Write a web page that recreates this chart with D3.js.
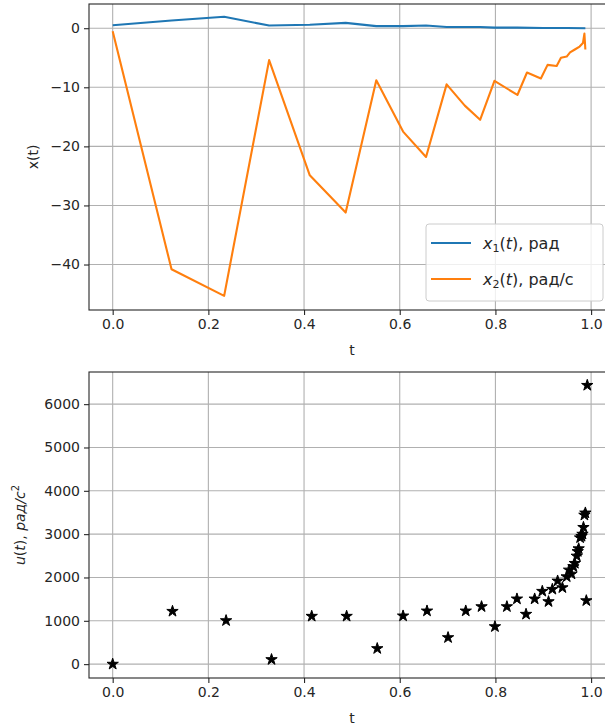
<!DOCTYPE html>
<html>
<head>
<meta charset="utf-8">
<script src="https://cdn.jsdelivr.net/npm/d3@7"></script>
<style>
  body { margin: 0; background: #fff; }
  svg { display: block; font-family: "DejaVu Sans", sans-serif; }
</style>
</head>
<body>
<svg id="chart" width="605" height="728"></svg>
<script>
// top panel: state variables
var t1 = [0, 0.123, 0.233, 0.327, 0.412, 0.487, 0.551, 0.607, 0.655, 0.698, 0.736, 0.768, 0.798, 0.846, 0.9, 0.95, 0.988];
var x1 = [0.5, 1.3, 1.95, 0.45, 0.6, 0.9, 0.35, 0.35, 0.45, 0.2, 0.2, 0.2, 0.1, 0.1, 0.05, 0.03, 0.0];

var t2 = [0, 0.123, 0.233, 0.327, 0.412, 0.487, 0.551, 0.607, 0.655, 0.698, 0.736, 0.768, 0.798, 0.846,
          0.866, 0.895, 0.909, 0.928, 0.937, 0.949, 0.956, 0.966, 0.976, 0.983, 0.986, 0.988];
var x2 = [-0.5, -40.8, -45.3, -5.4, -24.9, -31.2, -8.8, -17.5, -21.8, -9.5, -13.1, -15.5, -8.9, -11.3,
          -7.5, -8.5, -6.2, -6.4, -5.0, -4.8, -4.1, -3.6, -3.1, -2.5, -0.9, -3.6];

// bottom panel: control
var tU = [0, 0.125, 0.237, 0.332, 0.416, 0.489, 0.553, 0.607, 0.657, 0.701, 0.738, 0.771, 0.799, 0.824,
          0.845, 0.864, 0.882, 0.898, 0.911, 0.919, 0.930, 0.940, 0.949, 0.954, 0.959, 0.963, 0.966,
          0.970, 0.972, 0.974, 0.977, 0.980, 0.982, 0.984, 0.986, 0.988, 0.990, 0.992];
var uVals = [0, 1220, 1005, 106, 1106, 1106, 360, 1113, 1228, 613, 1228, 1327, 866, 1327,
             1505, 1152, 1505, 1682, 1443, 1728, 1920, 1765, 2018, 2173, 2080, 2250, 2327,
             2495, 2600, 2664, 2917, 2950, 3000, 3157, 3440, 3490, 1465, 6435];

var xTicks = [0, 0.2, 0.4, 0.6, 0.8, 1.0];
var topYTicks = [0, -10, -20, -30, -40];
var botYTicks = [0, 1000, 2000, 3000, 4000, 5000, 6000];

var svg = d3.select("#chart");
var textColor = "#262626";

function fmtMinus(d) { return String(d).replace("-", "\u2212"); }

function drawAxes(g, x, y, yTicks, yFmt, left, top, right, bottom) {
  // grid
  g.selectAll(".vg").data(xTicks).enter().append("line")
    .attr("x1", function(d) { return x(d); }).attr("x2", function(d) { return x(d); })
    .attr("y1", top).attr("y2", bottom)
    .attr("stroke", "#b0b0b0").attr("stroke-width", 1.1);
  g.selectAll(".hg").data(yTicks).enter().append("line")
    .attr("x1", left).attr("x2", right)
    .attr("y1", function(d) { return y(d); }).attr("y2", function(d) { return y(d); })
    .attr("stroke", "#b0b0b0").attr("stroke-width", 1.1);

  // axes with d3
  var ax = g.append("g")
    .attr("transform", "translate(0," + bottom + ")")
    .call(d3.axisBottom(x).tickValues(xTicks).tickFormat(d3.format(".1f"))
      .tickSizeInner(5).tickSizeOuter(0).tickPadding(4));
  var ay = g.append("g")
    .attr("transform", "translate(" + left + ",0)")
    .call(d3.axisLeft(y).tickValues(yTicks).tickFormat(yFmt)
      .tickSizeInner(5).tickSizeOuter(0).tickPadding(4));
  [ax, ay].forEach(function(a) {
    a.select(".domain").remove();
    a.selectAll("line").attr("stroke", textColor).attr("stroke-width", 1.1);
    a.selectAll("text").attr("fill", textColor)
      .attr("font-size", "14px").attr("font-family", "DejaVu Sans");
  });

  // spines (right one is cropped off the picture)
  g.append("rect")
    .attr("x", left).attr("y", top)
    .attr("width", right - left).attr("height", bottom - top)
    .attr("fill", "none").attr("stroke", textColor).attr("stroke-width", 1.1);
}

// ---------- top panel ----------
var xT = d3.scaleLinear().domain([-0.0495, 1.0395]).range([89, 610]);
var yT = d3.scaleLinear().domain([-47.7, 4.1]).range([310, 4]);
var gTop = svg.append("g");
drawAxes(gTop, xT, yT, topYTicks, fmtMinus, 89, 4, 610, 310);

var line = d3.line()
  .x(function(d) { return xT(d[0]); })
  .y(function(d) { return yT(d[1]); });

gTop.append("path")
  .datum(d3.zip(t1, x1))
  .attr("d", line)
  .attr("fill", "none").attr("stroke", "#1f77b4").attr("stroke-width", 2.1)
  .attr("stroke-linejoin", "round");
gTop.append("path")
  .datum(d3.zip(t2, x2))
  .attr("d", line)
  .attr("fill", "none").attr("stroke", "#ff7f0e").attr("stroke-width", 2.1)
  .attr("stroke-linejoin", "round");

gTop.append("text").attr("x", xT(0.5)).attr("y", 355)
  .attr("text-anchor", "middle").attr("font-size", "14px").attr("fill", textColor).text("t");
gTop.append("text")
  .attr("transform", "translate(38," + 157 + ") rotate(-90)")
  .attr("text-anchor", "middle").attr("font-size", "14px").attr("fill", textColor).text("x(t)");

// legend
var leg = gTop.append("g");
leg.append("rect")
  .attr("x", 426).attr("y", 224).attr("width", 177).attr("height", 77).attr("rx", 3)
  .attr("fill", "#fff").attr("fill-opacity", 0.8)
  .attr("stroke", "#cccccc").attr("stroke-width", 1);
var legItems = [
  { color: "#1f77b4", sub: "1", unit: ", рад" },
  { color: "#ff7f0e", sub: "2", unit: ", рад/с" }
];
legItems.forEach(function(it, i) {
  var yy = 243 + i * 36;
  leg.append("line").attr("x1", 431).attr("x2", 471).attr("y1", yy).attr("y2", yy)
    .attr("stroke", it.color).attr("stroke-width", 2.1);
  var tx = leg.append("text").attr("x", 483).attr("y", yy + 6)
    .attr("font-size", "16px").attr("fill", textColor);
  tx.append("tspan").attr("font-style", "italic").text("x");
  tx.append("tspan").attr("font-size", "11px").attr("dy", 3).text(it.sub);
  tx.append("tspan").attr("dy", -3).text("(");
  tx.append("tspan").attr("font-style", "italic").text("t");
  tx.append("tspan").text(")" + it.unit);
});

// ---------- bottom panel ----------
var xB = d3.scaleLinear().domain([-0.0495, 1.0395]).range([89, 610]);
var yB = d3.scaleLinear().domain([-320, 6742]).range([678, 372]);
var gBot = svg.append("g");
drawAxes(gBot, xB, yB, botYTicks, function(d) { return String(d); }, 89, 372, 610, 678);

var star = d3.symbol().type(d3.symbolStar).size(40);
gBot.selectAll(".pt").data(d3.zip(tU, uVals)).enter().append("path")
  .attr("d", star)
  .attr("transform", function(d) { return "translate(" + xB(d[0]) + "," + yB(d[1]) + ")"; })
  .attr("fill", "#000").attr("stroke", "#000").attr("stroke-width", 1);

gBot.append("text").attr("x", xB(0.5)).attr("y", 723)
  .attr("text-anchor", "middle").attr("font-size", "14px").attr("fill", textColor).text("t");
var yl = gBot.append("text")
  .attr("transform", "translate(25," + 525 + ") rotate(-90)")
  .attr("text-anchor", "middle").attr("font-size", "14px").attr("fill", textColor);
yl.append("tspan").attr("font-style", "italic").text("u");
yl.append("tspan").text("(");
yl.append("tspan").attr("font-style", "italic").text("t");
yl.append("tspan").text("), ");
yl.append("tspan").attr("font-style", "italic").text("рад/с");
yl.append("tspan").attr("font-size", "10px").attr("dy", -6).text("2");
</script>
</body>
</html>
